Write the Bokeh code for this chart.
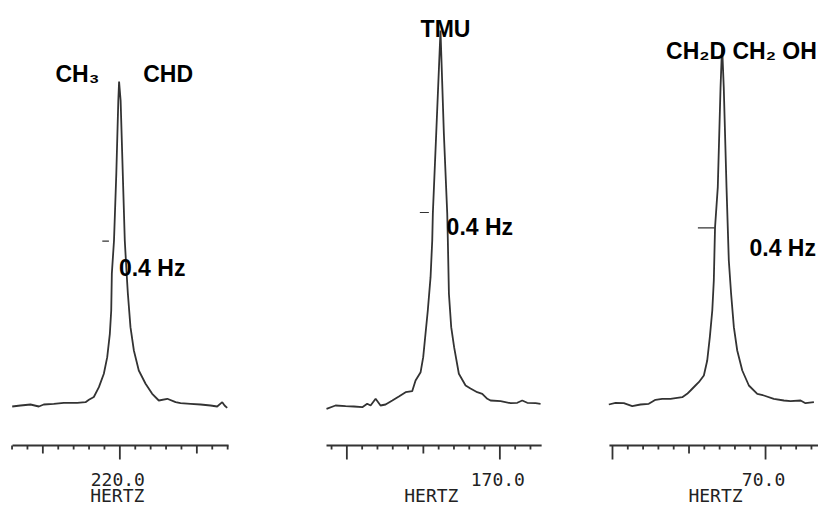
from bokeh.plotting import figure
from bokeh.layouts import row
from bokeh.models import Range1d
from bokeh.core.properties import value
from bokeh.embed import file_html
from bokeh.resources import INLINE

# ---------------- data ----------------
# Panel 1 : CH3 / CHD, centred near 220 Hz
p1_hz = [226.99, 226.45, 225.80, 225.26, 224.94, 224.29, 223.64, 222.77, 222.23,
         222.01, 221.69, 221.36, 221.04, 220.82, 220.65, 220.56, 220.52, 220.38,
         220.23, 220.10, 220.05, 219.95, 219.81, 219.68, 219.56, 219.48, 219.31,
         219.09, 218.77, 218.33, 217.90, 217.47, 216.92, 216.38, 216.06, 215.41,
         214.76, 214.11, 213.68, 213.35, 213.20, 213.03]
p1_int = [-0.25, 0.0, 0.25, -0.25, 0.25, 0.43, 0.68, 0.68, 0.83,
          1.43, 2.13, 4.58, 7.93, 12.08, 17.93, 23.75, 33.0, 41.25,
          58.0, 76.25, 81.0, 76.25, 58.0, 41.25, 33.0, 28.0, 19.58,
          13.75, 8.75, 5.43, 2.93, 1.25, 1.68, 0.83, 0.58, 0.43,
          0.25, 0.0, -0.25, 0.83, 0.0, -0.58]

# Panel 2 : TMU, near 174 Hz
p2_hz = [181.33, 180.74, 180.08, 179.54, 178.99, 178.67, 178.45, 178.12, 177.80,
         177.47, 177.03, 176.60, 176.16, 175.73, 175.51, 175.18, 175.01, 174.86,
         174.71, 174.53, 174.42, 174.38, 174.16, 173.88, 173.66, 173.44, 173.40,
         173.33, 173.18, 172.99, 172.68, 172.24, 171.92, 171.48, 171.15, 170.82,
         170.61, 169.95, 169.30, 168.86, 168.54, 168.21, 167.67, 167.34]
p2_int = [-0.83, 0.0, -0.18, -0.25, -0.43, 0.43, 0.0, 1.68, 0.0,
          0.25, 1.25, 2.25, 3.33, 3.58, 6.25, 8.33, 12.08, 17.93,
          23.75, 32.08, 41.25, 48.0, 68.0, 93.75, 68.0, 48.0, 41.25,
          27.93, 19.58, 14.58, 7.93, 5.0, 4.25, 3.33, 2.93, 1.68,
          1.25, 1.08, 0.58, 0.68, 1.25, 0.68, 0.58, 0.43]

# Panel 3 : CH2D CH2 OH, near 73 Hz
p3_hz = [80.24, 79.80, 79.26, 78.71, 78.17, 77.63, 77.19, 76.75, 76.21,
         75.44, 75.12, 74.90, 74.58, 74.36, 74.03, 73.81, 73.64, 73.48,
         73.38, 73.30, 73.12, 72.94, 72.84, 72.73, 72.55, 72.40, 72.25,
         72.07, 71.85, 71.52, 71.09, 70.54, 70.11, 69.46, 68.80, 68.37,
         67.71, 67.39, 66.84]
p3_int = [0.25, 0.68, 0.58, -0.18, 0.25, 0.43, 1.43, 1.68, 1.68,
          2.08, 2.93, 3.75, 5.0, 5.83, 7.5, 11.25, 17.08, 23.75,
          31.25, 44.5, 54.58, 79.58, 90.0, 79.58, 54.58, 36.25, 27.93,
          19.58, 13.75, 8.75, 5.0, 2.93, 2.5, 1.68, 1.25, 1.08,
          1.25, 0.58, 0.83]

# axis ticks (Hz)
p1_long = [220]
p1_mid = [215, 225]
p1_minor = [213, 214, 216, 217, 218, 219, 221, 222, 223, 224, 226, 227]
p1_label = ["220.0"]

p2_long = [170, 180]
p2_mid = [175]
p2_minor = [168, 169, 171, 172, 173, 174, 176, 177, 178, 179, 181]
p2_label_at = [170]
p2_label = ["170.0"]

p3_long = [70, 80]
p3_mid = [75]
p3_minor = [67, 68, 69, 71, 72, 73, 74, 76, 77, 78, 79]
p3_label_at = [70]
p3_label = ["70.0"]

# half-height markers (Hz span, intensity)
p1_mark = (221.14, 220.71, 41.1)
p2_mark = (175.23, 174.64, 48.25)
p3_mark = (74.42, 73.33, 44.4)

# ---------------- styling ----------------
INK = "#333333"
Y_START, Y_END = -25.25, 101.25
AXIS_Y = -10.0
LONG, MID, MINOR = 3.5, 2.0, 1.0
BOLD = dict(text_font=value("Liberation Sans"), text_font_style="bold",
            text_font_size="23px", text_color="black",
            text_align="left", text_baseline="alphabetic")
MONO = dict(text_font=value("DejaVu Sans Mono"), text_font_size="18px",
            text_color="#222222", text_align="center", text_baseline="alphabetic")


def panel(width, xs, xe, hz, inten, ax0, ax1, longs, mids, minors,
          lab_at, labs, hertz_at, mark):
    p = figure(width=width, height=506, x_range=Range1d(xs, xe),
               y_range=Range1d(Y_START, Y_END), output_backend="svg",
               toolbar_location=None, x_axis_location=None,
               y_axis_location=None, min_border=0)
    p.grid.visible = False
    p.outline_line_color = None
    p.background_fill_color = "white"
    p.border_fill_color = "white"
    # spectrum trace
    p.line(hz, inten, line_color=INK, line_width=1.8)
    # half-height marker
    p.segment(x0=[mark[0]], y0=[mark[2]], x1=[mark[1]], y1=[mark[2]],
              line_color=INK, line_width=1.2)
    # frequency axis
    p.segment(x0=[ax0], y0=[AXIS_Y], x1=[ax1], y1=[AXIS_Y],
              line_color=INK, line_width=1.8)
    for ticks, ln in ((longs, LONG), (mids, MID), (minors, MINOR)):
        p.segment(x0=ticks, y0=[AXIS_Y] * len(ticks), x1=ticks,
                  y1=[AXIS_Y - ln] * len(ticks), line_color=INK, line_width=1.8)
    p.text(x=lab_at, y=[-18.4] * len(lab_at), text=labs, x_offset=-2, **MONO)
    p.text(x=[hertz_at], y=[-22.6], text=["HERTZ"], **MONO)
    return p


f1 = panel(300, 227.75, 208.27, p1_hz, p1_int, 226.97, 212.94,
           p1_long, p1_mid, p1_minor, p1_long, p1_label, 220.17, p1_mark)
f1.text(x=[224.18, 218.48], y=[83.0, 83.0], text=["CH₃", "CHD"], **BOLD)
f1.text(x=[220.06], y=[34.5], text=["0.4 Hz"], **BOLD)

f2 = panel(280, 183.03, 164.73, p2_hz, p2_int, 181.33, 167.27,
           p2_long, p2_mid, p2_minor, p2_label_at, p2_label, 174.48, p2_mark)
f2.text(x=[175.18], y=[94.2], text=["TMU"], **BOLD)
f2.text(x=[173.48], y=[44.75], text=["0.4 Hz"], **BOLD)

f3 = panel(238, 82.09, 66.54, p3_hz, p3_int, 80.20, 66.54,
           p3_long, p3_mid, p3_minor, p3_label_at, p3_label, 73.27, p3_mark)
f3.text(x=[76.50], y=[88.6], text=["CH₂D CH₂ OH"], **BOLD)
f3.text(x=[71.05], y=[39.3], text=["0.4 Hz"], **BOLD)

layout = row(f1, f2, f3, spacing=0)
open("out.html", "w").write(file_html(layout, INLINE))
